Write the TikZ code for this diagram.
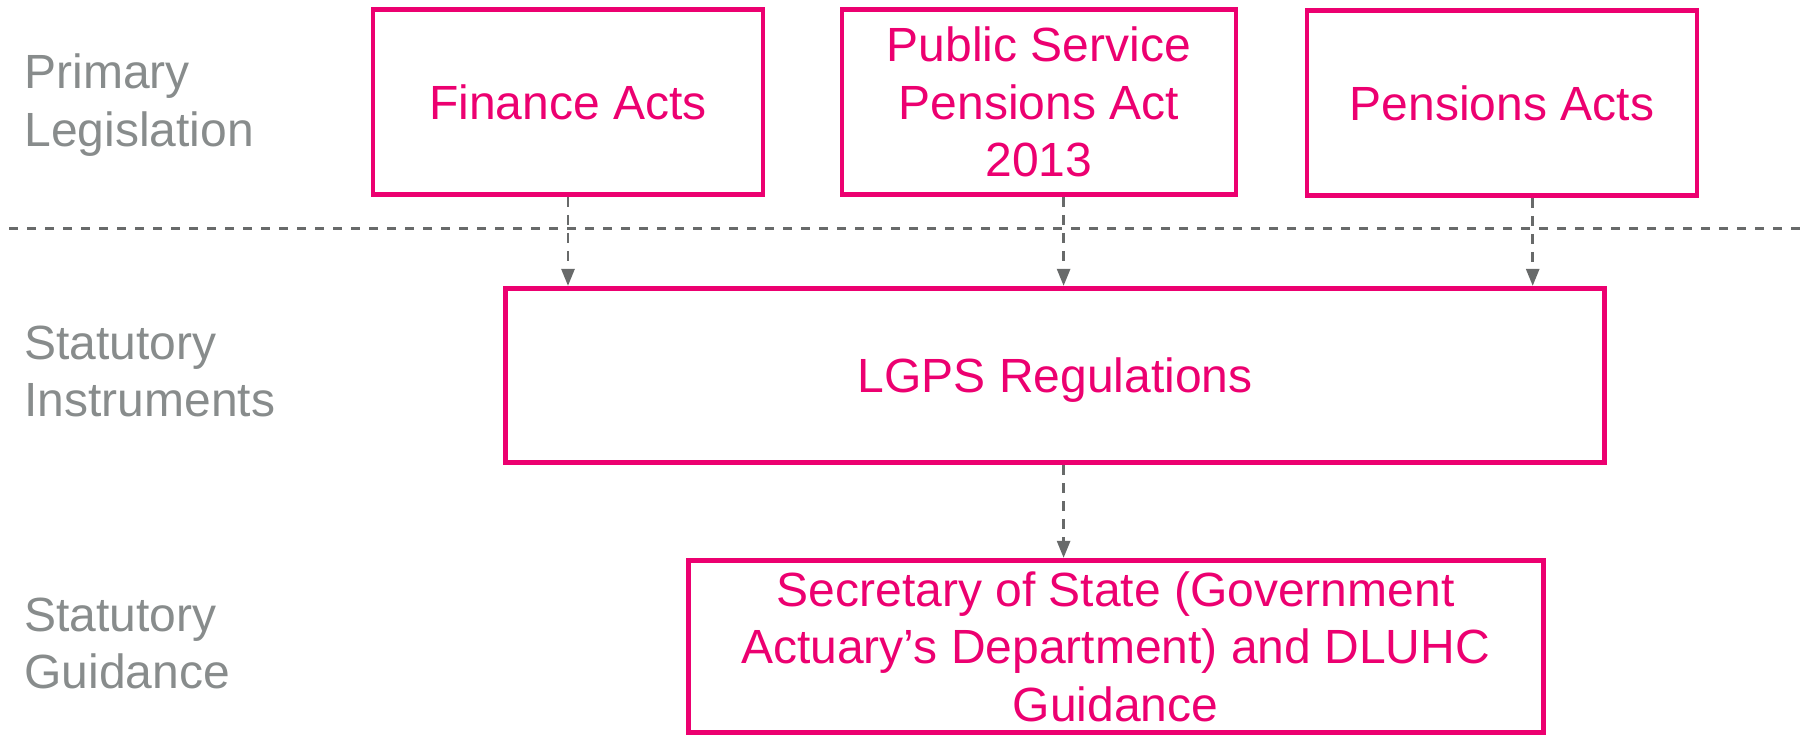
\documentclass[tikz,border=0pt]{standalone}
\usepackage{fontspec}
\setmainfont{Liberation Sans}
\usetikzlibrary{arrows.meta}
\definecolor{actpink}{RGB}{236,0,112}
\definecolor{tiergrey}{RGB}{136,140,140}
\definecolor{linkgrey}{RGB}{104,106,106}
\begin{document}
\begin{tikzpicture}[x=0.5pt,y=-0.5pt,
        act/.style={draw=actpink,line width=2.4pt,text=actpink,align=center,inner sep=0pt,font=\fontsize{24}{28.8}\selectfont},
        tier/.style={text=tiergrey,align=left,anchor=west,inner sep=0pt,font=\fontsize{24}{28.8}\selectfont},
        link/.style={linkgrey,line width=1.35pt,dash pattern=on 5pt off 4pt,-{Triangle[length=8.5pt,width=6.5pt]}},
        divider/.style={linkgrey,line width=1.4pt,dash pattern=on 4.5pt off 4.5pt}]
                \useasboundingbox (0,0) rectangle (1801,737);
                \node[tier] (primary) at (24,105) {Primary\\Legislation};
                \node[tier] (instr) at (24,371.5) {Statutory\\Instruments};
                \node[tier] (guide) at (24,643.5) {Statutory\\Guidance};
                \node[act,minimum width=195pt,minimum height=92.5pt] (fin) at (568,102) {Finance Acts};
                \node[act,minimum width=197pt,minimum height=92.5pt] (pub) at (1039,102) {Public Service\\Pensions Act\\2013};
                \node[act,minimum width=195pt,minimum height=92.5pt] (pen) at (1502,103) {Pensions Acts};
                \node[act,minimum width=549.5pt,minimum height=87.2pt,text depth=0pt] (lgps) at (1055.3,375.5) {LGPS Regulations};
                \node[act,minimum width=427.5pt,minimum height=86.2pt] (sec) at (1115.6,646.5) {Secretary of State (Government\\Actuary’s Department) and DLUHC\\Guidance};
                \coordinate (divL) at (9,228.5);
                \coordinate (divR) at (1801,228.5);
                \coordinate (midx) at (1063.6,0);
                \coordinate (penx) at (1532.7,0);
                \draw[divider] (divL) -- (divR);
                \draw[link] (fin.south) -- (fin.south |- lgps.north);
                \draw[link] (pub.south -| midx) -- (lgps.north -| midx);
                \draw[link] (pen.south -| penx) -- (lgps.north -| penx);
                \draw[link] (lgps.south -| midx) -- (sec.north -| midx);
            \end{tikzpicture}
\end{document}
